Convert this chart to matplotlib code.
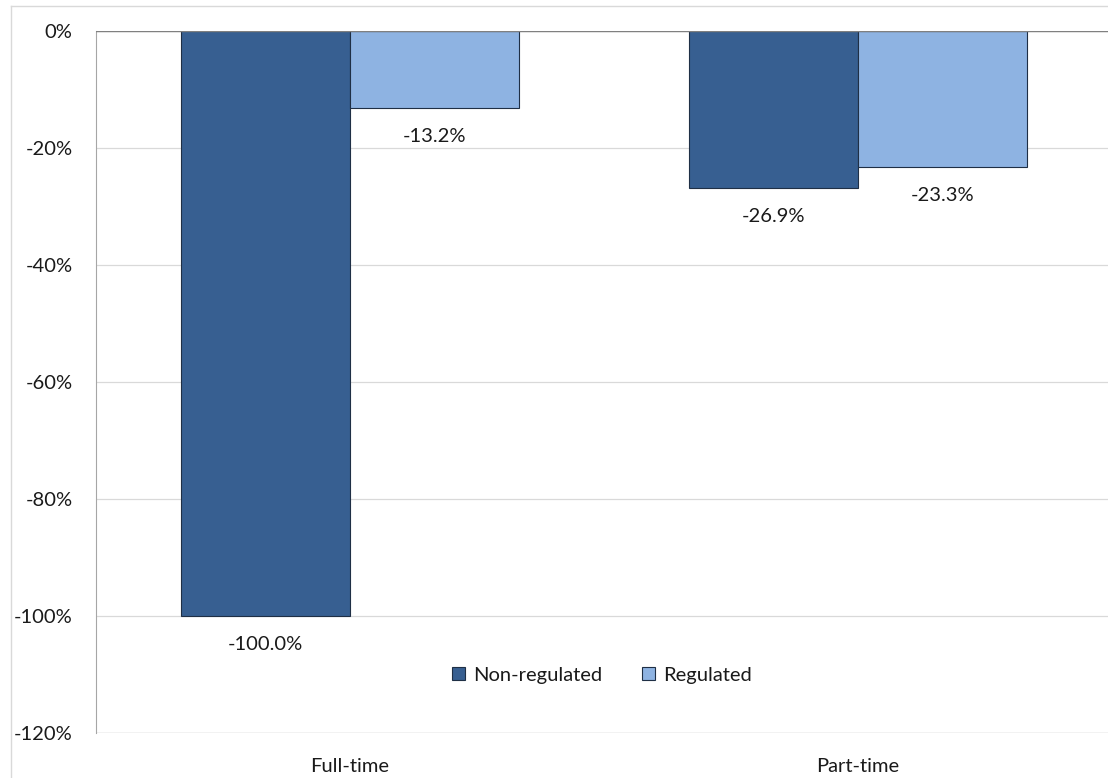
import matplotlib
matplotlib.use("Agg")
import matplotlib.pyplot as plt
from matplotlib.lines import Line2D
import numpy as np

categories = ["Full-time", "Part-time"]
series_names = ["Non-regulated", "Regulated"]
non_regulated = [-100.0, -26.9]
regulated = [-13.2, -23.3]
yticks = [0, -20, -40, -60, -80, -100, -120]

plt.rcParams['font.family'] = ['Lato', 'DejaVu Sans']

W, H = 1108, 778
fig = plt.figure(figsize=(W/100, H/100), dpi=100)
ax = fig.add_axes([96/W, 1-733/H, (1108-96)/W, (733-31)/H])

x = np.arange(len(categories))
bw = 0.333
c_dark = "#375F91"
c_light = "#8EB3E2"
FS = 14.5
TC = "#1a1a1a"
b1 = ax.bar(x - bw/2, non_regulated, bw, color=c_dark, edgecolor="#1F2F45", linewidth=0.8, label=series_names[0], zorder=3)
b2 = ax.bar(x + bw/2, regulated, bw, color=c_light, edgecolor="#1F2F45", linewidth=0.8, label=series_names[1], zorder=3)

for bars, vals in ((b1, non_regulated), (b2, regulated)):
    for b, v in zip(bars, vals):
        ax.annotate(f"{v:.1f}%", (b.get_x() + b.get_width()/2, v), xytext=(0, -28),
                    textcoords="offset pixels",
                    ha="center", va="center", fontsize=FS, color=TC)

ax.set_ylim(-120, 0)
ax.set_xlim(-0.5, -0.5 + (1108-96)/508)
ax.set_yticks(yticks)
ax.set_yticklabels([f"{t}%" for t in yticks], fontsize=FS, color=TC)
ax.yaxis.grid(True, color="#D9D9D9", linewidth=0.9, zorder=0)
ax.set_axisbelow(True)
ax.tick_params(axis="y", length=0, pad=17)
ax.tick_params(axis="x", length=0, pad=18)
ax.set_xticks(x)
ax.set_xticklabels(categories, fontsize=FS, color=TC)
for s in ["top", "right", "bottom"]:
    ax.spines[s].set_visible(False)
ax.spines["left"].set_color("#A6A6A6")
ax.axhline(0, color="#808080", linewidth=1.0, zorder=4)
ax.axhline(-120, color="#BFBFBF", linewidth=0.9, zorder=1)

leg = ax.legend(loc="center", bbox_to_anchor=((602-96)/1012, (733-675)/702),
                ncol=2, frameon=False, fontsize=FS, handlelength=0.65, handleheight=0.65,
                handletextpad=0.4, columnspacing=2.0)
for t in leg.get_texts():
    t.set_color(TC)

# outer chart frame (partially visible)
fig.add_artist(Line2D([11/W, 11/W], [0, 1-6/H], color="#D9D9D9", linewidth=1.0))
fig.add_artist(Line2D([11/W, 1], [1-6/H, 1-6/H], color="#D9D9D9", linewidth=1.0))

fig.savefig("out.png", dpi=100)
